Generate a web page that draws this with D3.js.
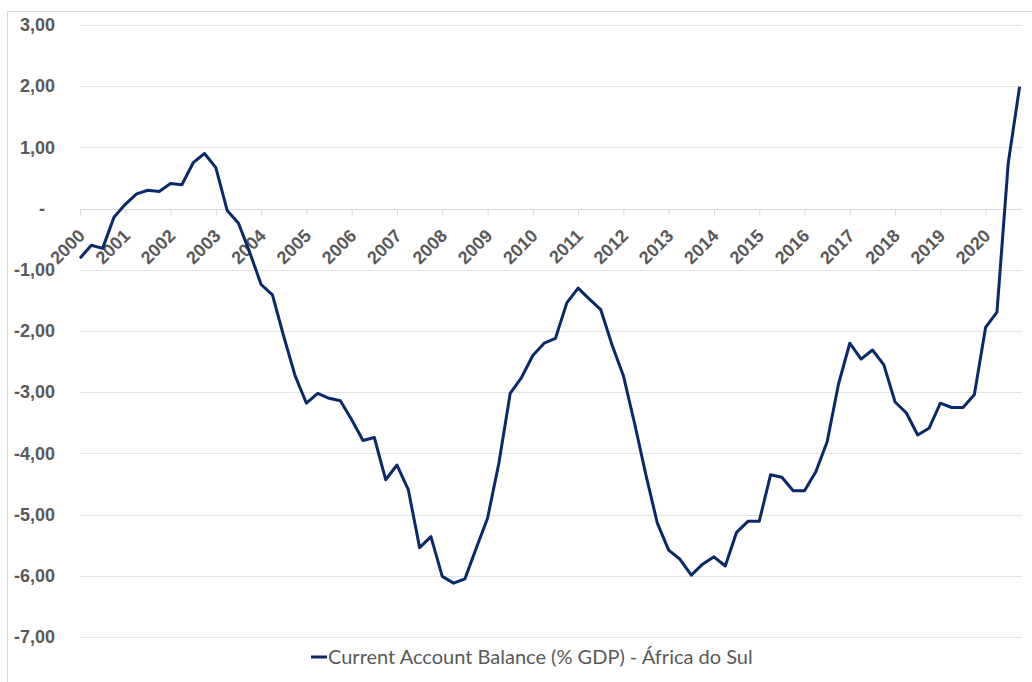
<!DOCTYPE html>
<html>
<head>
<meta charset="utf-8">
<script src="https://cdn.jsdelivr.net/npm/d3@7"></script>
<style>
    html, body { margin: 0; padding: 0; background: #fff; }
    svg { display: block; }
    .axis text { font-family: "Liberation Sans", Arial, sans-serif; font-weight: bold; font-size: 18px; fill: #595959; }
    .legend text { font-family: Lato, "Open Sans", sans-serif; font-size: 20px; fill: #595959; }
</style>
</head>
<body>
<div id="chart"></div>
<script>
// Data: current account balance, % of GDP, quarterly 2000 Q1 - 2020 Q4
const years = ['2000', '2001', '2002', '2003', '2004', '2005', '2006', '2007', '2008', '2009', '2010',
    '2011', '2012', '2013', '2014', '2015', '2016', '2017', '2018', '2019', '2020'];
const quarters = ['Q1', 'Q2', 'Q3', 'Q4'];
const balance = [
    -0.81, -0.60, -0.65, -0.14,   // 2000
    0.07, 0.24, 0.30, 0.28,       // 2001
    0.41, 0.39, 0.75, 0.90,       // 2002
    0.67, -0.03, -0.24, -0.72,    // 2003
    -1.24, -1.41, -2.09, -2.73,   // 2004
    -3.18, -3.02, -3.10, -3.14,   // 2005
    -3.45, -3.79, -3.74, -4.43,   // 2006
    -4.19, -4.59, -5.54, -5.36,   // 2007
    -6.01, -6.12, -6.05, -5.55,   // 2008
    -5.06, -4.16, -3.02, -2.76,   // 2009
    -2.40, -2.20, -2.12, -1.54,   // 2010
    -1.30, -1.48, -1.65, -2.23,   // 2011
    -2.73, -3.52, -4.36, -5.14,   // 2012
    -5.58, -5.73, -5.99, -5.81,   // 2013
    -5.69, -5.84, -5.29, -5.11,   // 2014
    -5.11, -4.35, -4.39, -4.61,   // 2015
    -4.61, -4.30, -3.81, -2.87,   // 2016
    -2.20, -2.46, -2.31, -2.55,   // 2017
    -3.16, -3.34, -3.70, -3.59,   // 2018
    -3.18, -3.25, -3.25, -3.04,   // 2019
    -1.94, -1.69, 0.75, 1.99      // 2020
];
const yTicks = [-7, -6, -5, -4, -3, -2, -1, 0, 1, 2, 3];
const seriesName = 'Current Account Balance (% GDP) - África do Sul';

let width = 1032;
let height = 682;
let margin = {
    top: 25,
    bottom: 45,
    left: 80,
    right: 12
};

let svg, xScale, yScale, xAxis, yAxis;

const categories = years.flatMap(y => quarters.map(q => `${y} ${q}`));
const data = categories.map((c, i) => ({category: c, value: balance[i]}));

const locale = d3.formatLocale({decimal: ',', thousands: '.', grouping: [3], currency: ['', ''], minus: '-'});
const fmt = locale.format('.2f');

function buildScales() {
    xScale = d3.scalePoint()
        .domain(categories)
        .range([margin.left, 1019.6]);

    yScale = d3.scaleLinear()
        .domain([-7, 3])
        .range([637, margin.top]);
}

function buildAxes() {
    xAxis = d3.axisBottom(xScale)
        .tickValues(categories.filter(c => c.endsWith('Q1')))
        .tickFormat(c => c.slice(0, 4))
        .tickSize(6)
        .tickSizeOuter(0);

    yAxis = d3.axisLeft(yScale)
        .tickValues(yTicks)
        .tickFormat(d => d === 0 ? '-' : fmt(d))
        .tickSize(0)
        .tickPadding(25);
}

function buildSVG() {
    svg = d3.select('#chart')
        .append('svg')
        .attr('width', width)
        .attr('height', height);

    // chart frame
    svg.append('rect')
        .attr('x', 7.5)
        .attr('y', 11.5)
        .attr('width', width + 10)
        .attr('height', height + 10)
        .attr('fill', 'none')
        .attr('stroke', '#d9d9d9');
}

function drawGrid() {
    svg.append('g')
        .attr('class', 'grid')
        .selectAll('line')
        .data(yTicks.filter(d => d !== 0))
        .join('line')
        .attr('x1', margin.left)
        .attr('x2', width - margin.right + 2)
        .attr('y1', d => Math.round(yScale(d)) + 0.5)
        .attr('y2', d => Math.round(yScale(d)) + 0.5)
        .attr('stroke', '#e3e3e3')
        .attr('stroke-width', 1);
}

function drawAxes() {
    const y0 = Math.round(yScale(0)) + 0.5;

    svg.append('g')
        .attr('class', 'y-axis axis')
        .attr('transform', `translate(${margin.left},0)`)
        .call(yAxis)
        .call(g => g.select('.domain').remove())
        .call(g => g.selectAll('.tick text')
            .filter(d => d === 0)
            .attr('x', -35));

    const xg = svg.append('g')
        .attr('class', 'x-axis axis')
        .attr('transform', `translate(0,${y0})`)
        .call(xAxis)
        .call(g => g.select('.domain').remove());

    xg.append('line')
        .attr('x1', margin.left)
        .attr('x2', width - margin.right + 2)
        .attr('stroke', '#d9d9d9');

    xg.selectAll('.tick line')
        .attr('stroke', '#d9d9d9');

    xg.selectAll('.tick text')
        .attr('y', 0)
        .attr('dy', '0.35em')
        .attr('text-anchor', 'end')
        .attr('transform', 'translate(1,23) rotate(-45)');
}

function drawLine() {
    const line = d3.line()
        .x(d => xScale(d.category))
        .y(d => yScale(d.value));

    svg.append('path')
        .datum(data)
        .attr('class', 'line')
        .attr('fill', 'none')
        .attr('stroke', '#08296a')
        .attr('stroke-width', 3)
        .attr('stroke-linejoin', 'round')
        .attr('d', line);
}

function drawLegend() {
    const legend = svg.append('g')
        .attr('class', 'legend')
        .attr('transform', 'translate(311,657)');

    legend.append('line')
        .attr('x1', 0)
        .attr('x2', 16)
        .attr('stroke', '#08296a')
        .attr('stroke-width', 3);

    legend.append('text')
        .attr('x', 17)
        .attr('y', 7)
        .text(seriesName);
}

buildScales();
buildAxes();
buildSVG();
drawGrid();
drawAxes();
drawLine();
drawLegend();
</script>
</body>
</html>
